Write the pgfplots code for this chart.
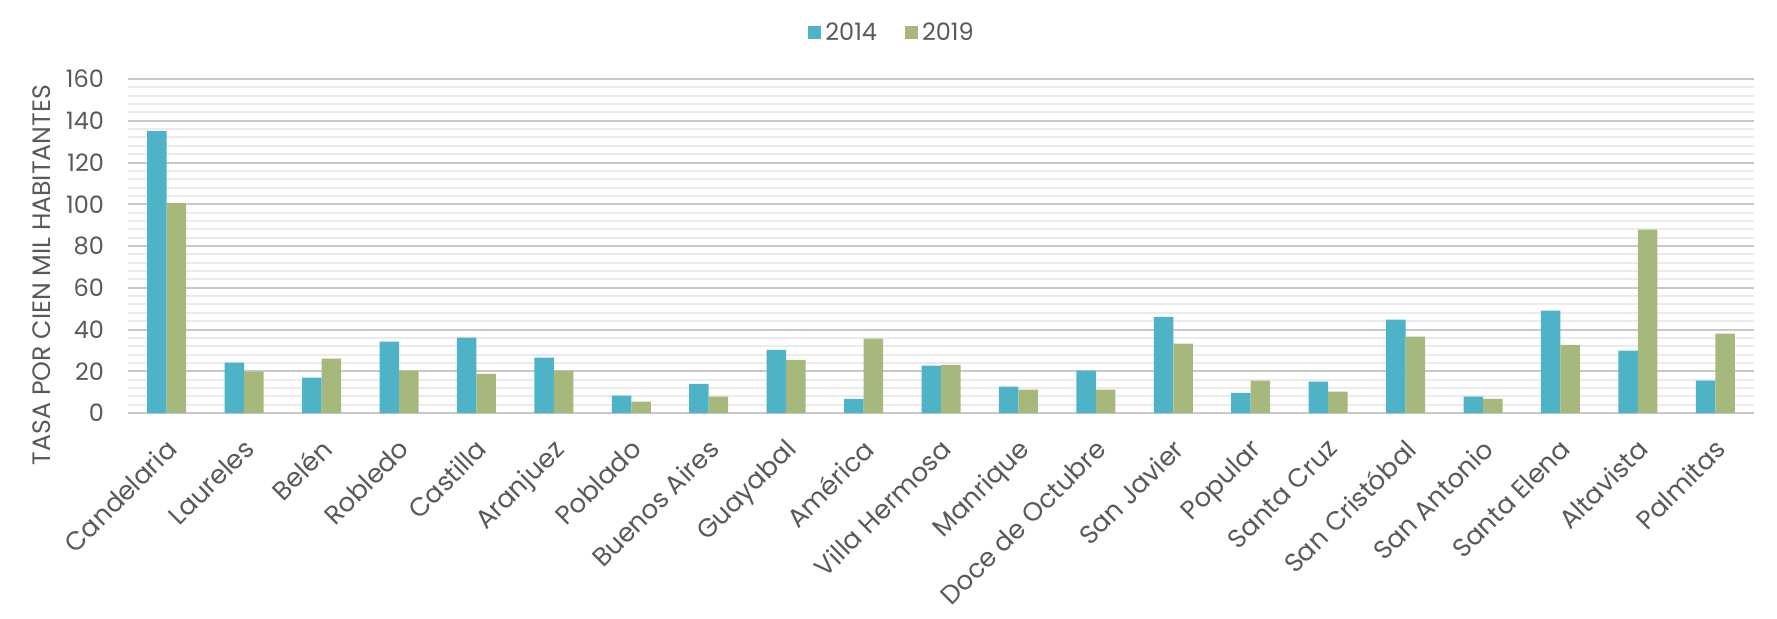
\documentclass[border=0pt]{standalone}
\usepackage{fontspec}
\setmainfont{Poppins}
\usepackage{pgfplots}
\pgfplotsset{compat=1.18}
\definecolor{c2014}{HTML}{4FB3C8}
\definecolor{c2019}{HTML}{A7B87D}
\definecolor{txt}{HTML}{595959}
\definecolor{majgrid}{HTML}{C8C8C8}
\definecolor{mingrid}{HTML}{EBEBEB}

\begin{document}
\begin{tikzpicture}
  \path[use as bounding box] (0,0) rectangle (888.5pt,-309pt);
  \begin{axis}[
      at={(64pt,-39.5pt)}, anchor=north west,
      scale only axis,
      width=813pt, height=167pt,
      ybar=0pt, bar width=9.75pt,
      ymin=0, ymax=160,
      xmin=-0.5, xmax=20.5,
      ytick={0,20,...,160},
      minor y tick num=4,
      xtick=data,
      xticklabels={Candelaria,Laureles,Belén,Robledo,Castilla,Aranjuez,Poblado,Buenos Aires,Guayabal,América,Villa Hermosa,Manrique,Doce de Octubre,San Javier,Popular,Santa Cruz,San Cristóbal,San Antonio,Santa Elena,Altavista,Palmitas},
      axis line style={draw=none},
      ymajorgrids, yminorgrids,
      major grid style={majgrid, line width=1pt},
      minor grid style={mingrid, line width=1pt},
      major tick length=0pt, minor tick length=0pt,
      /pgf/number format/assume math mode=true,
      tick label style={font=\fontsize{12}{14}\selectfont, text=txt},
      yticklabel style={xshift=-8.5pt},
      xticklabel style={font=\fontsize{13}{15}\selectfont, xshift=-1pt, yshift=-10.5pt, rotate=45, anchor=north east, inner sep=1pt},
      ylabel={TASA POR CIEN MIL HABITANTES},
      ylabel style={at={(axis description cs:-0.0529,0.413)}, anchor=center, font=\fontsize{12.6}{14}\selectfont, text=txt},
      legend style={at={(axis description cs:0.4705,1.138)}, anchor=center, draw=none, fill=none,
        legend columns=-1, font=\fontsize{12}{14}\selectfont, text=txt,
        /tikz/every even column/.append style={column sep=12pt}},
      legend image code/.code={\fill[#1] (0pt,-3.25pt) rectangle (6.5pt,3.25pt);},
    ]
    \addplot[fill=c2014, draw=none] coordinates {
      (0,135.2) (1,24.1) (2,16.9) (3,34.2) (4,36.1) (5,26.5) (6,8.3)
      (7,14.0) (8,30.3) (9,6.8) (10,22.7) (11,12.6) (12,20.3) (13,46.1)
      (14,9.7) (15,15.0) (16,44.7) (17,7.8) (18,49.0) (19,29.9) (20,15.5)
    };
    \addplot[fill=c2019, draw=none] coordinates {
      (0,100.7) (1,19.8) (2,26.0) (3,20.3) (4,18.8) (5,20.3) (6,5.4)
      (7,7.8) (8,25.5) (9,35.6) (10,23.1) (11,11.2) (12,11.2) (13,33.2)
      (14,15.5) (15,10.2) (16,36.6) (17,6.8) (18,32.7) (19,87.8) (20,38.0)
    };
    \legend{2014,2019}
  \end{axis}
\end{tikzpicture}
\end{document}
